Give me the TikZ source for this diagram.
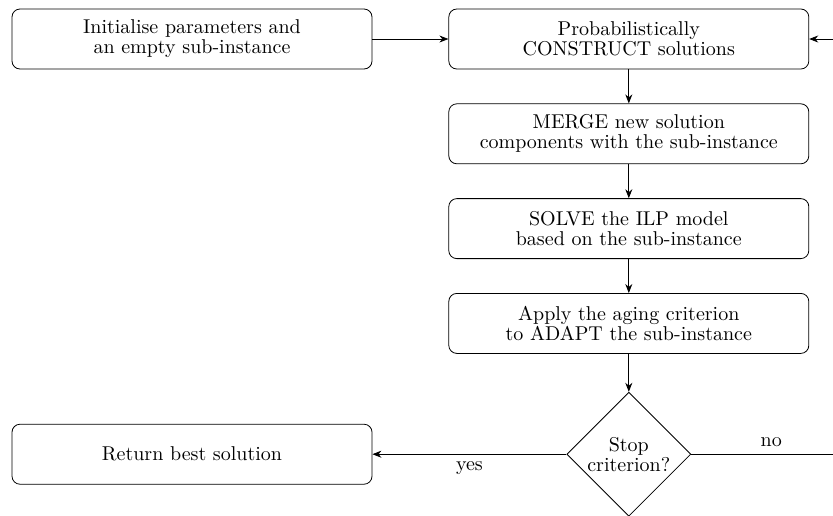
\documentclass[tikz,border=0pt]{standalone}
\usetikzlibrary{positioning, arrows.meta, shapes.geometric}

\begin{document}
\begin{tikzpicture}[
    % --- Styles ---
    block/.style={
        rectangle,
        rounded corners=4pt,
        draw=black,
        minimum width=180pt,
        minimum height=30pt,
        align=center,
        font=\fontsize{10pt}{10pt}\selectfont
    },
    decision/.style={
        diamond,
        draw=black,
        aspect=1,
        inner sep=-2pt,
        minimum size=62pt,
        align=center,
        font=\fontsize{10pt}{10pt}\selectfont
    },
    arrow/.style={
        -{Stealth[length=4.5pt, width=3.5pt]}
    }
]

% --- Frame ---
\useasboundingbox (0,0) rectangle (416.5pt,-257.5pt);

% --- Nodes (relative positioning) ---
\node[block] (init) at (96pt,-19.5pt) {Initialise parameters and \\ an empty sub-instance};
\node[block, right=38pt of init] (construct) {Probabilistically \\ CONSTRUCT solutions};
\node[block, below=17pt of construct] (merge) {MERGE new solution \\ components with the sub-instance};
\node[block, below=17pt of merge] (solve) {SOLVE the ILP model \\ based on the sub-instance};
\node[block, below=17pt of solve] (adapt) {Apply the aging criterion \\ to ADAPT the sub-instance};
\node[decision, below=19pt of adapt] (stop) {Stop \\ criterion?};
\node[block] (best) at (init |- stop) {Return best solution};

\coordinate (loop) at ([xshift=80pt]stop.east);

% --- Arrows ---
\draw[arrow] (init) -- (construct);
\draw[arrow] (construct) -- (merge);
\draw[arrow] (merge) -- (solve);
\draw[arrow] (solve) -- (adapt);
\draw[arrow] (adapt) -- (stop);
\draw[arrow] (stop) -- node[below] {yes} (best);
\draw[arrow] (stop.east) -- node[above] {no} (loop) |- (construct.east);

\end{tikzpicture}
\end{document}
